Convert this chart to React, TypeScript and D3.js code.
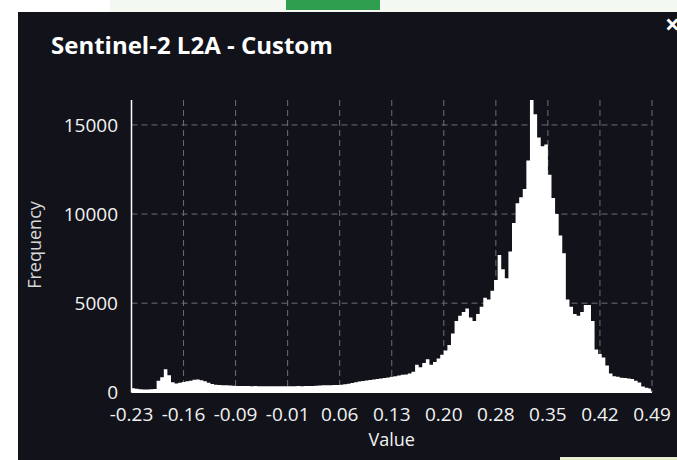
import React from "react";
import * as d3 from "d3";

const W = 677;
const H = 460;

const title = "Sentinel-2 L2A - Custom";
const xAxisTitle = "Value";
const yAxisTitle = "Frequency";

const binStart = -0.232;
const binEnd = 0.493;
const binWidth = 0.005;

const counts = [
  230, 200, 170, 160, 160, 170, 190,
  650, 850, 1300, 950, 560, 500, 540,
  580, 620, 650, 700, 720, 680, 620,
  540, 470, 430, 410, 400, 390, 380, 370, 360,
  355, 350, 350, 345, 350, 345, 340, 345, 340, 340, 345, 340, 340, 345, 340, 345, 350, 345, 350, 355, 360, 370, 380,
  390, 395, 400, 405, 410, 420,
  450, 480, 520, 560, 600, 630, 660, 690, 720, 750, 780, 800, 830, 870, 900, 940, 980, 1000, 1060, 1150,
  1550, 1400, 1650, 1850, 1550, 1700, 1900, 2100, 2350, 2650,
  3300, 4000, 4300, 4500, 4700, 4200, 4000, 4400, 4800, 5300, 5200, 5700,
  6300, 7700, 6900, 6400, 7900, 9500, 10600, 10950, 11400, 13000,
  16400, 15600, 14300, 13800, 13900, 12200, 10900, 10000, 8800, 7800,
  5200, 4800, 4400, 4300, 4500, 4900, 4900, 4000, 2400, 2150,
  1950, 1500, 1050, 900, 870, 820, 800, 780, 740, 650, 550, 330, 250, 220,
];

const xTickLabels = ["-0.23", "-0.16", "-0.09", "-0.01", "0.06", "0.13", "0.20", "0.28", "0.35", "0.42", "0.49"];
const yTicks = [0, 5000, 10000, 15000];
const yMax = 16400;

const FONT = "'Open Sans', 'Noto Sans', sans-serif";

export default function App() {
  const plotL = 131.5;
  const plotR = 652;
  const plotB = 392.3;
  const plotT = 100;

  const x = d3.scaleLinear().domain([binStart, binEnd]).range([plotL, plotR]);
  const xt = d3.scalePoint<string>().domain(xTickLabels).range([plotL, plotR]);
  const y = d3.scaleLinear().domain([0, yMax]).range([plotB, plotT]);

  const pts = counts.map((c, i) => ({ x0: binStart + i * binWidth, c }));
  pts.push({ x0: binStart + (counts.length - 0.3) * binWidth, c: counts[counts.length - 1] });
  const area = d3
    .area<{ x0: number; c: number }>()
    .x((d) => Math.min(x(d.x0), plotR))
    .y0(plotB)
    .y1((d) => y(d.c))
    .curve(d3.curveStepAfter);

  return (
    <svg
      width={W}
      height={H}
      style={{ position: "fixed", left: 0, top: 0, display: "block" }}
      xmlns="http://www.w3.org/2000/svg"
    >
      <rect x={0} y={0} width={W} height={H} fill="#ffffff" />
      <rect x={110} y={0} width={W - 110} height={12} fill="#f3f8f1" />
      <rect x={286} y={0} width={94} height={10} fill="#2f9e4f" />
      <rect x={18} y={12} width={W - 18} height={H - 12} fill="#11121a" />
      <rect x={560} y={457} width={W - 560} height={3} fill="#e9f0cf" />

      <text x={51} y={54} fill="#ffffff" fontFamily={FONT} fontWeight={700} fontSize={24}>
        {title}
      </text>
      <text x={665} y={34} fill="#ffffff" fontFamily={FONT} fontWeight={700} fontSize={26}>
        ×
      </text>

      {/* grid */}
      {yTicks.filter((t) => t > 0).map((t) => (
        <line key={"gy" + t} x1={plotL} x2={plotR} y1={y(t)} y2={y(t)} stroke="#6f6f6f" strokeWidth={1} strokeDasharray="6,4" />
      ))}
      {xTickLabels.slice(1).map((t) => (
        <line key={"gx" + t} x1={xt(t)} x2={xt(t)} y1={plotT} y2={plotB} stroke="#6f6f6f" strokeWidth={1} strokeDasharray="6,4" />
      ))}

      <path d={area(pts) || ""} fill="#ffffff" />

      {/* axes */}
      <line x1={plotL} x2={plotL} y1={plotT} y2={plotB} stroke="#ffffff" strokeWidth={1.5} />
      <line x1={plotL} x2={plotR} y1={plotB} y2={plotB} stroke="#ffffff" strokeWidth={1.5} />

      {yTicks.map((t) => (
        <text key={"yl" + t} x={118} y={y(t)} dy="0.35em" textAnchor="end" fill="#f2f2f2" fontFamily={FONT} fontSize={19}>
          {t}
        </text>
      ))}
      {xTickLabels.map((t) => (
        <text key={"xl" + t} x={xt(t)} y={421} textAnchor="middle" fill="#f2f2f2" fontFamily={FONT} fontSize={19}>
          {t}
        </text>
      ))}

      <text x={(plotL + plotR) / 2} y={446} textAnchor="middle" fill="#f2f2f2" fontFamily={FONT} fontSize={18}>
        {xAxisTitle}
      </text>
      <text
        transform={`translate(41,245) rotate(-90)`}
        textAnchor="middle"
        fill="#d8d8d8"
        fontFamily={FONT}
        fontSize={18}
      >
        {yAxisTitle}
      </text>
    </svg>
  );
}
